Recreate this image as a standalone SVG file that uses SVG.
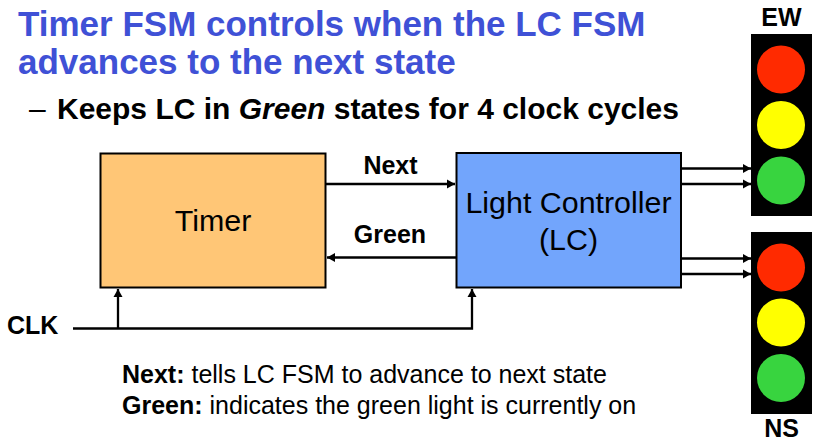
<svg xmlns="http://www.w3.org/2000/svg" width="814" height="441" viewBox="0 0 814 441">
<style>
text{font-family:"Liberation Sans",Arial,sans-serif;fill:#000}
.t{font-size:35px;font-weight:bold;fill:#3f51d6}
.box{stroke:#000;stroke-width:2}
.c{fill:none;stroke:#000;stroke-width:2.300}
.lab{font-size:25px;font-weight:bold}
.big{font-size:30.400px}
.note{font-size:25px}
.red{fill:#ff2a00}.yel{fill:#ffff00}.grn{fill:#38d43f}
</style>
<defs>
<marker id="a" markerUnits="userSpaceOnUse" markerWidth="9" markerHeight="10" refX="8" refY="5" orient="auto"><path d="M0 0.500L8 5L0 9.500z" fill="#000"/></marker>
</defs>
<rect width="814" height="441" fill="#fff"/>
<text class="t" x="18" y="36">Timer FSM controls when the LC FSM</text>
<text class="t" x="18" y="74">advances to the next state</text>
<text x="29" y="119" font-size="30" font-weight="bold"><tspan font-weight="normal">–</tspan><tspan x="57">Keeps LC in </tspan><tspan font-style="italic">Green</tspan><tspan> states for 4 clock cycles</tspan></text>
<g id="timer"><rect class="box" x="100.500" y="153.500" width="225" height="134" fill="#ffc676"/><text class="big" x="213" y="231" text-anchor="middle">Timer</text></g>
<g id="lc"><rect class="box" x="456.500" y="153" width="224.500" height="134.500" fill="#72a5fc"/><text class="big" x="568.500" y="213" text-anchor="middle">Light Controller</text><text class="big" x="568.500" y="250" text-anchor="middle">(LC)</text></g>
<g id="connectors">
<path class="c" d="M326 184H455" marker-end="url(#a)"/>
<path class="c" d="M456 257.500H327" marker-end="url(#a)"/>
<path class="c" d="M73 328.500H472V289" marker-end="url(#a)"/>
<path class="c" d="M118 328.500V289" marker-end="url(#a)"/>
<path class="c" d="M680 168.500H751" marker-end="url(#a)"/>
<path class="c" d="M680 184H751" marker-end="url(#a)"/>
<path class="c" d="M680 258.500H751" marker-end="url(#a)"/>
<path class="c" d="M680 274H751" marker-end="url(#a)"/>
</g>
<text class="lab" x="390.500" y="174" text-anchor="middle">Next</text>
<text class="lab" x="390" y="243" text-anchor="middle">Green</text>
<text class="lab" x="7" y="334">CLK</text>
<g id="ew"><text class="lab" x="781.500" y="26" text-anchor="middle">EW</text><rect x="751" y="34" width="61" height="182"/><circle class="red" cx="781" cy="69.500" r="24"/><circle class="yel" cx="781" cy="125" r="24"/><circle class="grn" cx="781" cy="180.500" r="24"/></g>
<g id="ns"><rect x="751" y="232" width="61" height="182"/><circle class="red" cx="781" cy="267.500" r="24"/><circle class="yel" cx="781" cy="322.500" r="24"/><circle class="grn" cx="781" cy="378" r="24"/><text class="lab" x="781.500" y="437" text-anchor="middle">NS</text></g>
<text class="note" x="122" y="383"><tspan font-weight="bold">Next:</tspan> tells LC FSM to advance to next state</text>
<text class="note" x="122" y="414"><tspan font-weight="bold">Green:</tspan> indicates the green light is currently on</text>
</svg>
